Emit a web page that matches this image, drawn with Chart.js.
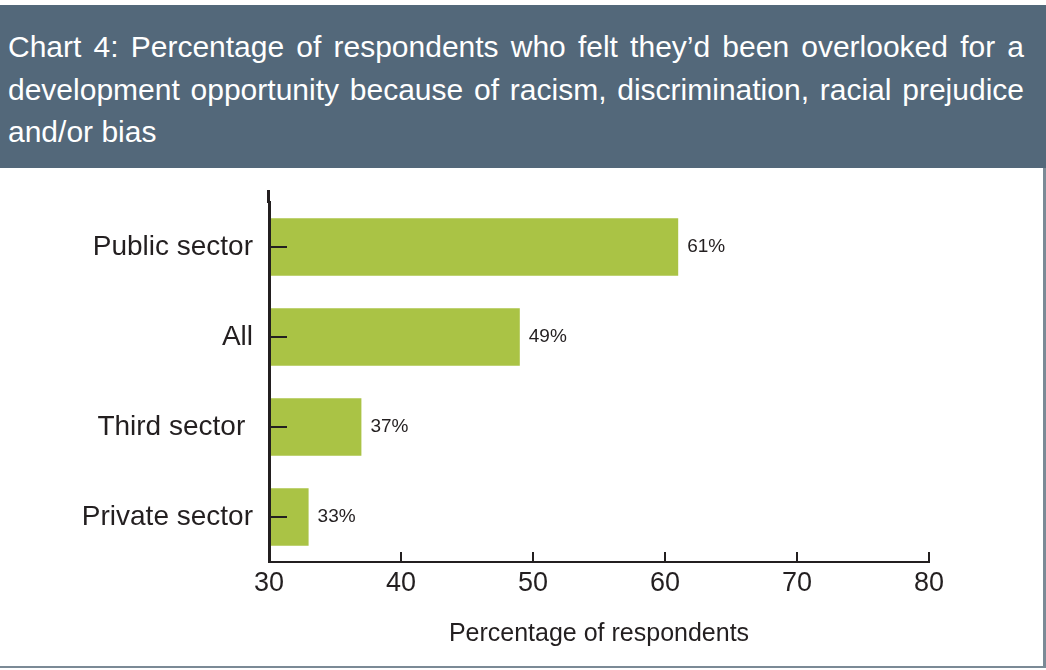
<!DOCTYPE html>
<html>
<head>
<meta charset="utf-8">
<title>Chart 4</title>
<script src="https://cdn.jsdelivr.net/npm/chart.js@4.4.1/dist/chart.umd.min.js"></script>
<style>
  html, body { margin: 0; padding: 0; background: #fff; }
  body { width: 1046px; height: 670px; position: relative; overflow: hidden; }
  .header { position: absolute; left: 0; top: 5px; width: 1046px; height: 163px; background: #53687a; }
  .header div {
    position: absolute; left: 8px; width: 1016px; color: #fff;
    font-family: "Liberation Sans", sans-serif; font-size: 30px; line-height: 42px;
    white-space: nowrap;
  }
  .header .just { text-align: justify; text-align-last: justify; }
  .panel {
    position: absolute; left: 0; top: 168px; width: 1043px; height: 498px;
    border-right: 3px solid #7b8a96; border-bottom: 2px solid #7b8a96;
  }
  canvas { display: block; }
</style>
</head>
<body>
<div class="header">
  <div class="just" style="top:21px">Chart 4: Percentage of respondents who felt they’d been overlooked for a</div>
  <div class="just" style="top:64px">development opportunity because of racism, discrimination, racial prejudice</div>
  <div style="top:106px">and/or bias</div>
</div>
<div class="panel"><canvas id="chart" width="1043" height="498"></canvas></div>
<script>
const categories = ['Public sector', 'All', 'Third sector ', 'Private sector'];
const percentages = [61, 49, 37, 33];
const xTicks = [30, 40, 50, 60, 70, 80];

const ink = '#231f20';
const barGreen = '#aac345';

// percentage label at the end of each bar, plus the short stub of the
// y axis that rises above the first category
const barLabels = {
  id: 'barLabels',
  afterDatasetsDraw(chart) {
    const ctx = chart.ctx;
    const meta = chart.getDatasetMeta(0);
    ctx.save();
    ctx.font = '19px "Liberation Sans"';
    ctx.fillStyle = ink;
    ctx.textBaseline = 'middle';
    meta.data.forEach((bar, i) => {
      ctx.fillText(percentages[i] + '%', bar.x + 9, bar.y);
    });
    const { left, top } = chart.chartArea;
    ctx.strokeStyle = ink;
    ctx.lineWidth = 3;
    ctx.beginPath();
    ctx.moveTo(left - 0.5, top - 12);
    ctx.lineTo(left - 0.5, top + 1);
    ctx.stroke();
    ctx.restore();
  }
};

new Chart(document.getElementById('chart'), {
  type: 'bar',
  data: {
    labels: categories,
    datasets: [{
      data: percentages,
      backgroundColor: barGreen,
      borderWidth: 0,
      categoryPercentage: 1,
      barPercentage: 0.64
    }]
  },
  options: {
    indexAxis: 'y',
    responsive: false,
    animation: false,
    layout: { padding: { top: 34, right: 114, left: 0, bottom: 0 } },
    plugins: {
      legend: { display: false },
      tooltip: { enabled: false }
    },
    scales: {
      x: {
        min: xTicks[0],
        max: xTicks[xTicks.length - 1],
        afterBuildTicks(scale) { scale.ticks = xTicks.map(v => ({ value: v })); },
        grid: { drawOnChartArea: false, tickLength: -10, color: ink, lineWidth: 2 },
        border: { color: ink, width: 2 },
        ticks: {
          padding: 15, color: ink, maxRotation: 0,
          font: { family: 'Liberation Sans', size: 27 }
        },
        title: {
          display: true,
          text: 'Percentage of respondents',
          color: ink,
          font: { family: 'Liberation Sans', size: 25, lineHeight: 1 },
          padding: { top: 0, bottom: 19 }
        },
        afterFit(scale) { scale.height = 104; }
      },
      y: {
        grid: {
          drawOnChartArea: false, offset: false, tickLength: -18,
          color: ink, lineWidth: 2, z: 1
        },
        border: { color: ink, width: 3, z: 1 },
        ticks: {
          padding: 34, color: ink,
          font: { family: 'Liberation Sans', size: 28 }
        },
        afterFit(scale) {
          scale.width = 269;
          scale.paddingTop = 0;
          scale.paddingBottom = 0;
        }
      }
    }
  },
  plugins: [barLabels]
});
</script>
</body>
</html>
